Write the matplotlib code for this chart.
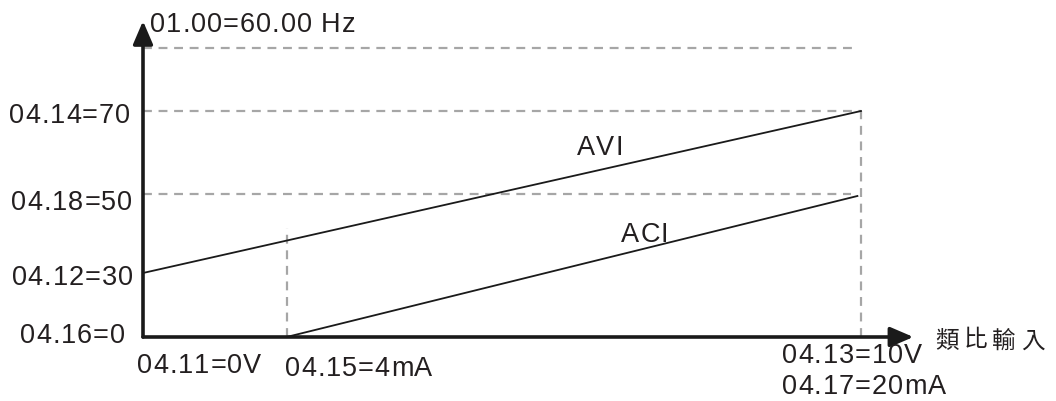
import matplotlib
matplotlib.use("Agg")
import matplotlib.pyplot as plt

plt.rcParams["font.family"] = ["Liberation Sans", "Noto Sans CJK TC", "DejaVu Sans"]

W, H = 1056, 401
TEXT = "#231f20"
GRID = "#a6a6a6"

# schematic positions
# x: percent of analog input span (0V .. 10V / 4mA at 20%)
x_input = [0, 20, 100]
# y: heights of levels in the diagram
y_min = 0      # 04.16=0
y_avi0 = 64    # 04.12=30
y_aci1 = 143   # 04.18=50
y_avi1 = 226   # 04.14=70
y_fmax = 289   # 01.00=60.00 Hz

avi_x = [0, 100]
avi_y = [y_avi0, y_avi1]
aci_x = [20, 99.5]
aci_y = [y_min, 141]

y_labels = ["04.14=70", "04.18=50", "04.12=30", "04.16=0"]

# axes area in pixels
x0_px, x1_px = 143, 861
y0_px, y1_px = 337, 48

fig = plt.figure(figsize=(W / 100, H / 100), dpi=100)
ax = fig.add_axes([x0_px / W, (H - y0_px) / H, (x1_px - x0_px) / W, (y0_px - y1_px) / H])
ax.set_xlim(0, 100)
ax.set_ylim(0, y_fmax)
ax.axis("off")


def px(x, y):
    return x / W, 1 - y / H


def spaced(x, y, s, track=1.0, va="baseline", **kw):
    # draw text char by char with a little extra tracking (pixels)
    renderer = fig.canvas.get_renderer()
    ha = kw.pop("ha", "left")
    parts = []
    cur = 0.0
    for ch in s:
        t = fig.text(0, 0, ch, va=va, ha="left", **kw)
        w = t.get_window_extent(renderer).width
        parts.append((t, cur))
        cur += w + track
    total = cur - track
    start = x - total if ha == "right" else x
    for t, off in parts:
        t.set_position(px(start + off, y))


# dashed guides
dash = dict(ls=(0, (4, 3)), color=GRID, lw=1.6, clip_on=False)
ax.plot([0, 98.7], [y_fmax, y_fmax], **dash)
ax.plot([0, 100], [y_avi1, y_avi1], **dash)
ax.plot([0, 98.6], [y_aci1, y_aci1], **dash)
ax.plot([100, 100], [y_min, y_avi1], **dash)
ax.plot([x_input[1], x_input[1]], [y_min, 109], **dash)

# characteristic lines
ax.plot(avi_x, avi_y, color="#1a1a1a", lw=1.3, clip_on=False)
ax.plot(aci_x, aci_y, color="#1a1a1a", lw=1.3, clip_on=False)

# axes with arrows
arrow = dict(arrowstyle="-|>,head_length=0.7,head_width=0.3", lw=2.6, color="#1a1a1a",
             mutation_scale=20, shrinkA=0, shrinkB=0)
ax.annotate("", xy=(107.3, 0), xytext=(0, 0), arrowprops=arrow, annotation_clip=False)
ax.annotate("", xy=(0, 316), xytext=(0, 0), arrowprops=arrow, annotation_clip=False)

fs = 19.5
# y labels
spaced(150, 32, "01.00=60.00 Hz", fontsize=fs, color=TEXT)
for lab, (xr, yb) in zip(y_labels, [(130, 123), (132, 210), (133, 285), (125, 343)]):
    spaced(xr, yb, lab, fontsize=fs, color=TEXT, ha="right")

# x labels
spaced(137, 373, "04.11=0V", fontsize=fs, color=TEXT)
spaced(285, 376, "04.15=4mA", fontsize=fs, color=TEXT)
spaced(782, 363, "04.13=10V", fontsize=fs, color=TEXT)
spaced(782, 394, "04.17=20mA", fontsize=fs, color=TEXT)
spaced(935, 341, "類比輸入", track=5, va="center", fontsize=17, color=TEXT,
       fontweight="light", family=["Noto Sans CJK TC", "DejaVu Sans"])

# line names
spaced(577, 155, "AVI", fontsize=fs, color=TEXT)
spaced(621, 242, "ACI", fontsize=fs, color=TEXT)

fig.savefig("out.png", dpi=100, facecolor="white")
